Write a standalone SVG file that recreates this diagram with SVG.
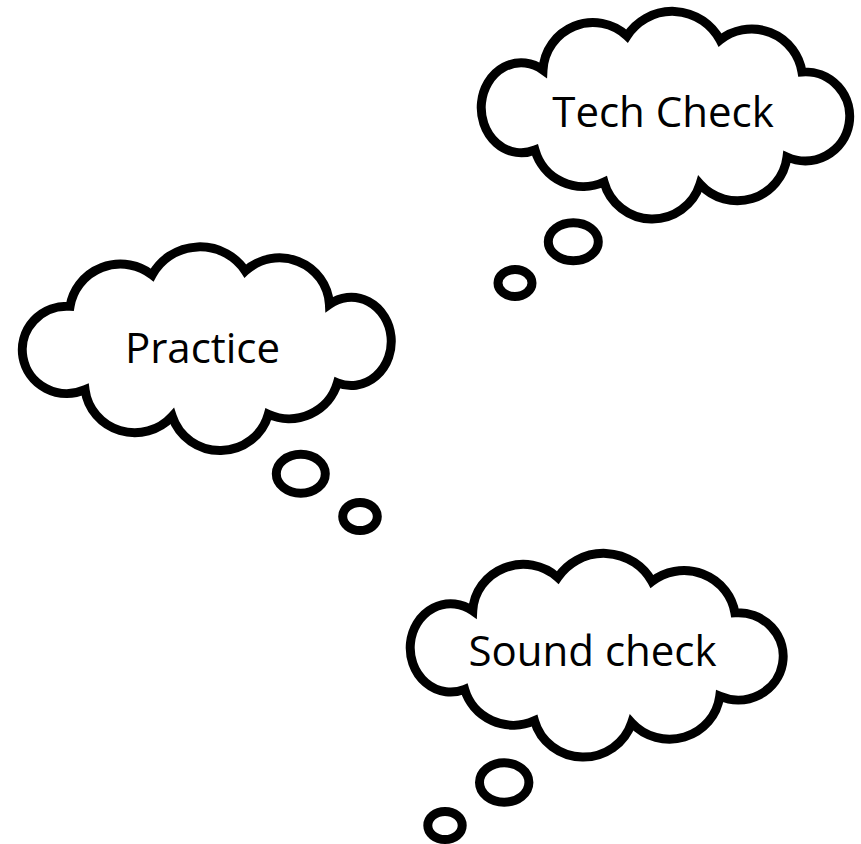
<svg xmlns="http://www.w3.org/2000/svg" xmlns:xlink="http://www.w3.org/1999/xlink" width="861" height="844" viewBox="0 0 861 844">
<style>
.cl{fill:#fff;stroke:#000;stroke-width:9;stroke-linejoin:miter;stroke-miterlimit:4}
.bb{fill:#fff;stroke:#000;stroke-width:9}
.lb{font-family:"Open Sans","Noto Sans","Liberation Sans",sans-serif;font-size:42px;fill:#000;text-anchor:middle}
</style>
<defs>
<path id="cloud" class="cl" vector-effect="non-scaling-stroke" d="M535 150 A40 45 0 1 1 543 70 A50 50 0 0 1 627 36 A54 54 0 0 1 720 40 A51 51 0 0 1 802 72 A44.5 44.5 0 1 1 787 157 A50 50 0 0 1 700 184 A50 50 0 0 1 604 182 A50 50 0 0 1 535 150 Z"/>
</defs>
<rect width="861" height="844" fill="#fff"/>
<g id="connectors"></g>
<g id="tech-check">
<ellipse class="bb" cx="515" cy="283" rx="17" ry="13.5"/>
<ellipse class="bb" cx="573.3" cy="241.7" rx="25" ry="19"/>
<use xlink:href="#cloud"/>
<text class="lb" x="663" y="127">Tech Check</text>
</g>
<g id="practice">
<ellipse class="bb" cx="360" cy="516.5" rx="17.3" ry="14"/>
<ellipse class="bb" cx="300.8" cy="473.7" rx="24.5" ry="19.5"/>
<use xlink:href="#cloud" transform="matrix(-1.00136 0 0 0.98095 873.15 235.7)"/>
<text class="lb" x="202.5" y="363">Practice</text>
</g>
<g id="sound-check">
<ellipse class="bb" cx="445" cy="825.5" rx="17.2" ry="14"/>
<ellipse class="bb" cx="504.2" cy="782.5" rx="24.7" ry="19.7"/>
<use xlink:href="#cloud" transform="matrix(1.01223 0 0 0.98095 -76.9 542.2)"/>
<text class="lb" x="592.5" y="666">Sound check</text>
</g>
</svg>
